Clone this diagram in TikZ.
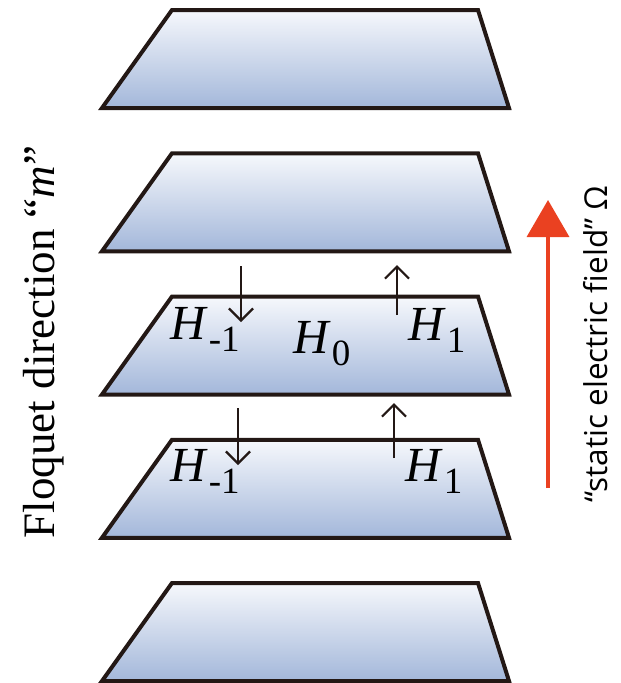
\documentclass[tikz,border=0pt]{standalone}
\usepackage{fontspec}
\setmainfont{Liberation Serif}
\newfontfamily\fieldfont{Open Sans}
\usetikzlibrary{arrows.meta}
\definecolor{planetop}{RGB}{246,248,252}
\definecolor{planebot}{RGB}{163,183,218}
\definecolor{planeedge}{RGB}{35,24,21}
\definecolor{fieldred}{RGB}{234,65,33}
\newcommand{\Hterm}[1]{\textit{H}\kern1pt\raisebox{-12pt}{\fontsize{37}{37}\selectfont #1}}

\begin{document}
\begin{tikzpicture}[x=1pt, y=-1pt,
  plane/.style={draw=planeedge, line width=4pt, line join=miter,
                top color=planetop, bottom color=planebot},
  harr/.style={-{Straight Barb[length=12pt, width=24pt]}, line width=2.2pt, draw=planeedge},
  farr/.style={-{Triangle[length=37pt, width=42pt]}, line width=3.5pt, draw=fieldred},
  hlab/.style={anchor=base west, inner sep=0pt, font=\fontsize{49}{49}\selectfont},
  side/.style={anchor=base, inner sep=0pt, rotate=90}
]
\useasboundingbox (0,0) rectangle (621,683);

% Floquet planes
\foreach \i in {0,...,4} {
  \pgfmathsetmacro{\t}{10+143.25*\i}
  \path[plane] (172,\t) -- (478,\t) -- (509,\t+98) -- (102,\t+98) -- cycle;
}

% Hamiltonian blocks
\node[hlab] (hma) at (170,339) {\Hterm{-1}};
\node[hlab] (hza) at (293,353) {\Hterm{0}};
\node[hlab] (hpa) at (408,340) {\Hterm{1}};
\node[hlab] (hmb) at (170,481) {\Hterm{-1}};
\node[hlab] (hpb) at (405,481) {\Hterm{1}};

% Couplings between planes
\coordinate (dna) at (241,266); \coordinate (dnaend) at (241,322);
\coordinate (upa) at (397,315); \coordinate (upaend) at (397,265);
\coordinate (dnb) at (238,408); \coordinate (dnbend) at (238,465);
\coordinate (upb) at (394,458); \coordinate (upbend) at (394,403);
\draw[harr] (dna) -- (dnaend);
\draw[harr] (upa) -- (upaend);
\draw[harr] (dnb) -- (dnbend);
\draw[harr] (upb) -- (upbend);

% Field arrow and side labels
\coordinate (fbase) at (548,488);
\coordinate (ftip) at (548,200);
\draw[farr] (fbase) -- (ftip);
\node[side, font=\fontsize{45}{45}\selectfont] (floq) at (54,342) {Floquet direction “\textit{m}”};
\node[side, font=\fieldfont\fontsize{31.5}{31.5}\selectfont] (field) at (607,344) {“static electric field” Ω};
\end{tikzpicture}
\end{document}
